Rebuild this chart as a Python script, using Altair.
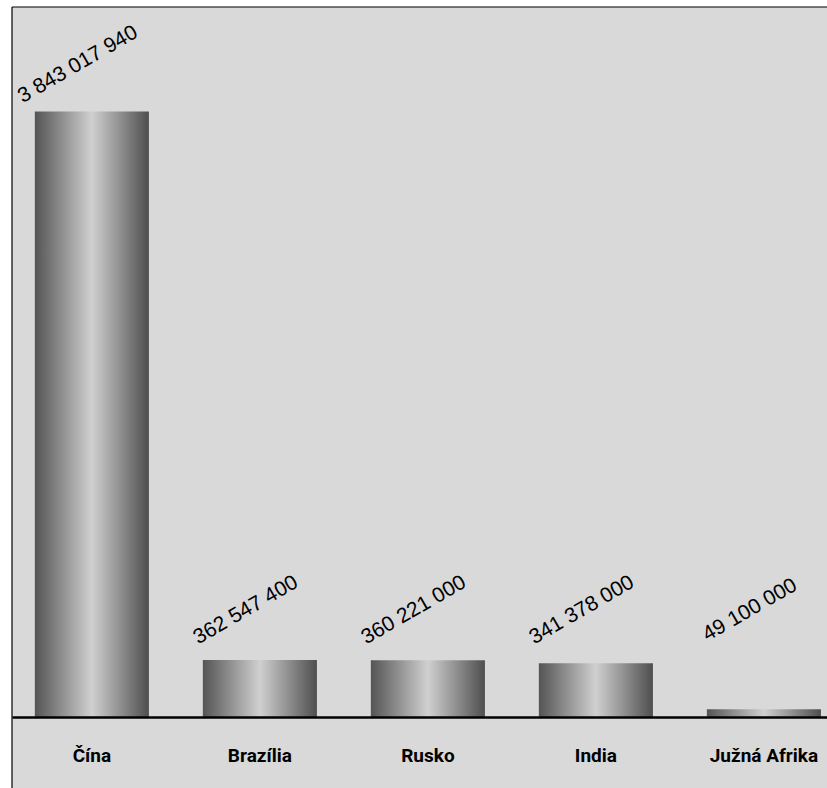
import altair as alt
import pandas as pd

countries = ["Čína", "Brazília", "Rusko", "India", "Južná Afrika"]
values = [3843017940, 362547400, 360221000, 341378000, 49100000]
labels = ["3 843 017 940", "362 547 400", "360 221 000", "341 378 000", "49 100 000"]

df = pd.DataFrame({"country": countries, "value": values, "label": labels})

W, H = 815, 781
BASE = 710

x_scale = alt.Scale(domain=countries, paddingInner=0.321, paddingOuter=0.086, align=0.79)
y_scale = alt.Scale(domain=[0, 4.507e9], range=[BASE, 0], nice=False, zero=True)

gradient = alt.LinearGradient(
    gradient="linear", x1=0, x2=1, y1=0, y2=0,
    stops=[
        alt.GradientStop(color="#545454", offset=0),
        alt.GradientStop(color="#d0d0d0", offset=0.5),
        alt.GradientStop(color="#4e4e4e", offset=1),
    ],
)

x_axis = alt.Axis(
    orient="bottom", offset=-71, domain=True, domainColor="black", domainWidth=2.5,
    ticks=False, tickSize=0, labelPadding=29.5,
    labelFont="Roboto, sans-serif",
    labelFontWeight="bold", labelFontSize=19, labelColor="black", labelAngle=0,
    title=None, grid=False, zindex=1,
)

base = alt.Chart(df)

bars = base.mark_bar(color=gradient).encode(
    x=alt.X("country:N", scale=x_scale, sort=countries, axis=x_axis),
    y=alt.Y("value:Q", scale=y_scale, axis=None),
)

text = base.transform_calculate(ly="max(datum.value, 380000000)").mark_text(
    angle=330, fontSize=21, font="Liberation Sans, Arial, sans-serif", color="black",
    align="center", baseline="middle", xOffset=-14, yOffset=-47,
).encode(
    x=alt.X("country:N", scale=x_scale, sort=countries, axis=x_axis),
    y=alt.Y("ly:Q", scale=y_scale, axis=None),
    text="label:N",
)

frame_df = pd.DataFrame({"a": [0]})
left = alt.Chart(frame_df).mark_rule(color="black", strokeWidth=1.2).encode(
    x=alt.value(0), y=alt.value(0), y2=alt.value(H)
)
top = alt.Chart(frame_df).mark_rule(color="black", strokeWidth=1.2).encode(
    x=alt.value(0), x2=alt.value(W), y=alt.value(0)
)

chart = alt.layer(bars, text, left, top).properties(
    width=W, height=H,
    autosize=alt.AutoSizeParams(type="none"),
    padding={"left": 12, "top": 7, "right": 0, "bottom": 0},
    background="white",
).configure_view(fill="#d9d9d9", strokeWidth=0)

chart.save("out.html", embed_options={"renderer": "svg", "actions": False})
